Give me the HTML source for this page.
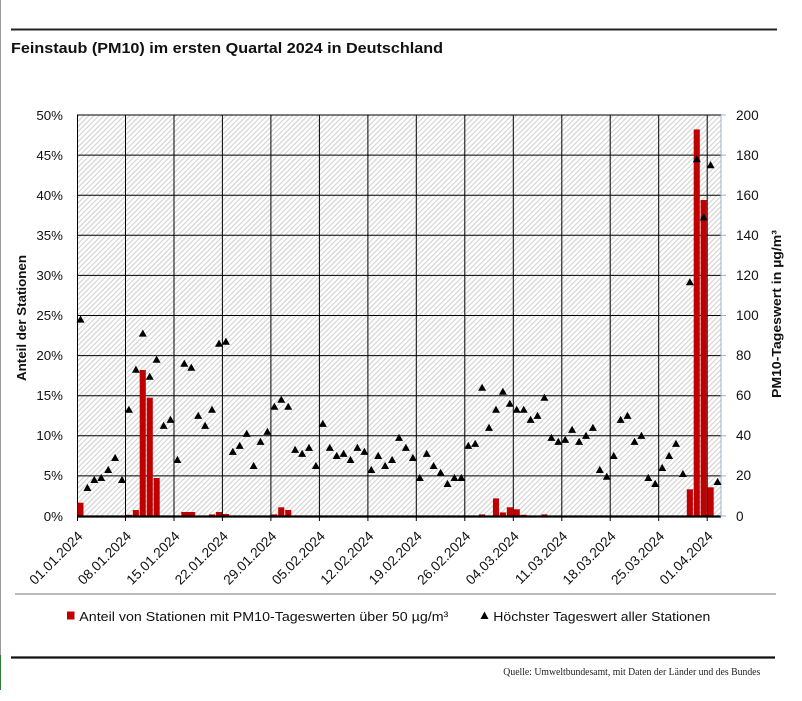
<!DOCTYPE html>
<html><head><meta charset="utf-8"><style>
html,body{margin:0;padding:0;background:#fff;}
svg{display:block;}
text{font-family:"Liberation Sans",sans-serif;}
</style></head><body>
<svg width="802" height="701" viewBox="0 0 802 701" xmlns="http://www.w3.org/2000/svg">
<defs>
<pattern id="h" width="3.6" height="3.6" patternUnits="userSpaceOnUse" patternTransform="rotate(45)">
<rect width="3.6" height="3.6" fill="#ffffff"/>
<line x1="0.6" y1="0" x2="0.6" y2="3.6" stroke="#cdcdcd" stroke-width="1"/>
</pattern>
<path id="m" d="M0,-4 L4,3.1 L-4,3.1 Z" fill="#000"/>
</defs>
<rect width="802" height="701" fill="#fff"/>
<line x1="0.5" y1="0" x2="0.5" y2="655" stroke="#9a9a9a" stroke-width="1"/>
<line x1="0.5" y1="655" x2="0.5" y2="690" stroke="#2e7d32" stroke-width="1"/>

<line x1="11" y1="29.5" x2="777" y2="29.5" stroke="#222" stroke-width="2"/>
<text x="11" y="53" font-size="15" font-weight="bold" fill="#111" textLength="432" lengthAdjust="spacingAndGlyphs">Feinstaub (PM10) im ersten Quartal 2024 in Deutschland</text>

<rect x="77" y="115" width="644" height="401" fill="url(#h)"/>

<g stroke="#000" stroke-width="1">
<line x1="77" y1="115" x2="721" y2="115"/>
<line x1="77" y1="155.1" x2="721" y2="155.1"/>
<line x1="77" y1="195.2" x2="721" y2="195.2"/>
<line x1="77" y1="235.3" x2="721" y2="235.3"/>
<line x1="77" y1="275.4" x2="721" y2="275.4"/>
<line x1="77" y1="315.5" x2="721" y2="315.5"/>
<line x1="77" y1="355.6" x2="721" y2="355.6"/>
<line x1="77" y1="395.7" x2="721" y2="395.7"/>
<line x1="77" y1="435.8" x2="721" y2="435.8"/>
<line x1="77" y1="475.9" x2="721" y2="475.9"/>
</g>
<g stroke="#000" stroke-width="1">
<line x1="77.5" y1="115" x2="77.5" y2="521"/>
<line x1="125.5" y1="115" x2="125.5" y2="521"/>
<line x1="174" y1="115" x2="174" y2="521"/>
<line x1="222.4" y1="115" x2="222.4" y2="521"/>
<line x1="270.9" y1="115" x2="270.9" y2="521"/>
<line x1="319.4" y1="115" x2="319.4" y2="521"/>
<line x1="367.9" y1="115" x2="367.9" y2="521"/>
<line x1="416.3" y1="115" x2="416.3" y2="521"/>
<line x1="464.8" y1="115" x2="464.8" y2="521"/>
<line x1="513.3" y1="115" x2="513.3" y2="521"/>
<line x1="561.8" y1="115" x2="561.8" y2="521"/>
<line x1="610.2" y1="115" x2="610.2" y2="521"/>
<line x1="658.7" y1="115" x2="658.7" y2="521"/>
<line x1="707.2" y1="115" x2="707.2" y2="521"/>
</g>

<g fill="#c00000">
<rect x="77.4" y="502.7" width="6.1" height="13.3"/>
<rect x="125.9" y="514.8" width="6.1" height="1.2"/>
<rect x="132.8" y="510" width="6.1" height="6"/>
<rect x="139.7" y="370" width="6.1" height="146"/>
<rect x="146.7" y="397.7" width="6.1" height="118.3"/>
<rect x="153.6" y="478" width="6.1" height="38"/>
<rect x="181.3" y="512" width="13.8" height="4"/>
<rect x="209" y="514.4" width="6.1" height="1.6"/>
<rect x="215.9" y="512" width="6.1" height="4"/>
<rect x="222.8" y="514" width="6.1" height="2"/>
<rect x="271.3" y="514.4" width="6.1" height="1.6"/>
<rect x="278.2" y="507.3" width="6.1" height="8.7"/>
<rect x="285.2" y="510" width="6.1" height="6"/>
<rect x="479" y="514.4" width="6.1" height="1.6"/>
<rect x="492.9" y="498.4" width="6.1" height="17.6"/>
<rect x="499.8" y="512.4" width="6.1" height="3.6"/>
<rect x="506.8" y="507.3" width="6.1" height="8.7"/>
<rect x="513.7" y="509.3" width="6.1" height="6.7"/>
<rect x="520.6" y="514.8" width="6.1" height="1.2"/>
<rect x="541.4" y="514.4" width="6.1" height="1.6"/>
<rect x="686.8" y="489.3" width="6.1" height="26.7"/>
<rect x="693.7" y="129.4" width="6.1" height="386.6"/>
<rect x="700.6" y="200" width="6.1" height="316"/>
<rect x="707.6" y="487.3" width="6.1" height="28.7"/>
</g>

<line x1="77" y1="516.5" x2="721" y2="516.5" stroke="#000" stroke-width="2.2"/>
<g stroke="#9fb0c8" stroke-width="1">
<line x1="721" y1="115" x2="721" y2="517"/>
<line x1="721" y1="115" x2="726" y2="115"/>
<line x1="721" y1="155.1" x2="726" y2="155.1"/>
<line x1="721" y1="195.2" x2="726" y2="195.2"/>
<line x1="721" y1="235.3" x2="726" y2="235.3"/>
<line x1="721" y1="275.4" x2="726" y2="275.4"/>
<line x1="721" y1="315.5" x2="726" y2="315.5"/>
<line x1="721" y1="355.6" x2="726" y2="355.6"/>
<line x1="721" y1="395.7" x2="726" y2="395.7"/>
<line x1="721" y1="435.8" x2="726" y2="435.8"/>
<line x1="721" y1="475.9" x2="726" y2="475.9"/>
<line x1="721" y1="516" x2="726" y2="516"/>
</g>

<g>
<use href="#m" x="80.5" y="319.5"/><use href="#m" x="87.4" y="487.9"/><use href="#m" x="94.3" y="479.9"/><use href="#m" x="101.2" y="477.9"/>
<use href="#m" x="108.2" y="469.9"/><use href="#m" x="115.1" y="457.9"/><use href="#m" x="122" y="479.9"/><use href="#m" x="128.9" y="409.7"/>
<use href="#m" x="135.9" y="369.6"/><use href="#m" x="142.8" y="333.5"/><use href="#m" x="149.7" y="376.7"/><use href="#m" x="156.6" y="359.6"/>
<use href="#m" x="163.6" y="425.8"/><use href="#m" x="170.5" y="419.8"/><use href="#m" x="177.4" y="459.9"/><use href="#m" x="184.3" y="363.6"/>
<use href="#m" x="191.3" y="367.6"/><use href="#m" x="198.2" y="415.8"/><use href="#m" x="205.1" y="425.8"/><use href="#m" x="212" y="409.7"/>
<use href="#m" x="219" y="343.6"/><use href="#m" x="225.9" y="341.6"/><use href="#m" x="232.8" y="451.8"/><use href="#m" x="239.7" y="445.8"/>
<use href="#m" x="246.7" y="433.8"/><use href="#m" x="253.6" y="465.9"/><use href="#m" x="260.5" y="441.8"/><use href="#m" x="267.4" y="431.8"/>
<use href="#m" x="274.4" y="406.7"/><use href="#m" x="281.3" y="399.7"/><use href="#m" x="288.2" y="406.7"/><use href="#m" x="295.1" y="449.8"/>
<use href="#m" x="302.1" y="453.8"/><use href="#m" x="309" y="447.8"/><use href="#m" x="315.9" y="465.9"/><use href="#m" x="322.8" y="423.8"/>
<use href="#m" x="329.8" y="447.8"/><use href="#m" x="336.7" y="455.9"/><use href="#m" x="343.6" y="453.8"/><use href="#m" x="350.5" y="459.9"/>
<use href="#m" x="357.4" y="447.8"/><use href="#m" x="364.4" y="451.8"/><use href="#m" x="371.3" y="469.9"/><use href="#m" x="378.2" y="455.9"/>
<use href="#m" x="385.1" y="465.9"/><use href="#m" x="392.1" y="459.9"/><use href="#m" x="399" y="437.8"/><use href="#m" x="405.9" y="447.8"/>
<use href="#m" x="412.9" y="457.9"/><use href="#m" x="419.8" y="477.9"/><use href="#m" x="426.7" y="453.8"/><use href="#m" x="433.6" y="465.9"/>
<use href="#m" x="440.6" y="472.7"/><use href="#m" x="447.5" y="483.9"/><use href="#m" x="454.4" y="477.9"/><use href="#m" x="461.3" y="477.9"/>
<use href="#m" x="468.3" y="445.8"/><use href="#m" x="475.2" y="443.8"/><use href="#m" x="482.1" y="387.7"/><use href="#m" x="489" y="427.8"/>
<use href="#m" x="496" y="409.7"/><use href="#m" x="502.9" y="391.7"/><use href="#m" x="509.8" y="403.7"/><use href="#m" x="516.7" y="409.7"/>
<use href="#m" x="523.7" y="409.7"/><use href="#m" x="530.6" y="419.8"/><use href="#m" x="537.5" y="415.8"/><use href="#m" x="544.4" y="397.7"/>
<use href="#m" x="551.4" y="437.8"/><use href="#m" x="558.3" y="441.8"/><use href="#m" x="565.2" y="439.8"/><use href="#m" x="572.1" y="429.8"/>
<use href="#m" x="579.1" y="441.8"/><use href="#m" x="586" y="435.8"/><use href="#m" x="592.9" y="427.8"/><use href="#m" x="599.8" y="469.9"/>
<use href="#m" x="606.8" y="476.7"/><use href="#m" x="613.7" y="455.9"/><use href="#m" x="620.6" y="419.8"/><use href="#m" x="627.5" y="415.8"/>
<use href="#m" x="634.5" y="441.8"/><use href="#m" x="641.4" y="435.8"/><use href="#m" x="648.3" y="477.9"/><use href="#m" x="655.2" y="483.9"/>
<use href="#m" x="662.2" y="467.9"/><use href="#m" x="669.1" y="455.9"/><use href="#m" x="676" y="443.8"/><use href="#m" x="682.9" y="473.9"/>
<use href="#m" x="689.9" y="282.2"/><use href="#m" x="696.8" y="159.1"/><use href="#m" x="703.7" y="217.3"/><use href="#m" x="710.6" y="165.1"/>
<use href="#m" x="717.6" y="481.9"/>
</g>

<g font-size="13.3" fill="#111" text-anchor="end">
<text x="63" y="120">50%</text>
<text x="63" y="160">45%</text>
<text x="63" y="200">40%</text>
<text x="63" y="240">35%</text>
<text x="63" y="280">30%</text>
<text x="63" y="320">25%</text>
<text x="63" y="360">20%</text>
<text x="63" y="400">15%</text>
<text x="63" y="440">10%</text>
<text x="63" y="480">5%</text>
<text x="63" y="521">0%</text>
</g>
<g font-size="13.6" fill="#111">
<text x="736" y="120">200</text>
<text x="736" y="160">180</text>
<text x="736" y="200">160</text>
<text x="736" y="240">140</text>
<text x="736" y="280">120</text>
<text x="736" y="320">100</text>
<text x="736" y="360">80</text>
<text x="736" y="400">60</text>
<text x="736" y="440">40</text>
<text x="736" y="480">20</text>
<text x="736" y="521">0</text>
</g>

<text transform="translate(26,318) rotate(-90)" text-anchor="middle" font-size="13" font-weight="bold" fill="#111" textLength="126" lengthAdjust="spacingAndGlyphs">Anteil der Stationen</text>
<text transform="translate(781,314) rotate(-90)" text-anchor="middle" font-size="13" font-weight="bold" fill="#111" textLength="168" lengthAdjust="spacingAndGlyphs">PM10-Tageswert in µg/m³</text>

<g font-size="13.7" fill="#111" text-anchor="end">
<text transform="translate(83.5,537) rotate(-45)">01.01.2024</text>
<text transform="translate(132,537) rotate(-45)">08.01.2024</text>
<text transform="translate(180.5,537) rotate(-45)">15.01.2024</text>
<text transform="translate(228.9,537) rotate(-45)">22.01.2024</text>
<text transform="translate(277.4,537) rotate(-45)">29.01.2024</text>
<text transform="translate(325.9,537) rotate(-45)">05.02.2024</text>
<text transform="translate(374.4,537) rotate(-45)">12.02.2024</text>
<text transform="translate(422.8,537) rotate(-45)">19.02.2024</text>
<text transform="translate(471.3,537) rotate(-45)">26.02.2024</text>
<text transform="translate(519.8,537) rotate(-45)">04.03.2024</text>
<text transform="translate(568.3,537) rotate(-45)">11.03.2024</text>
<text transform="translate(616.7,537) rotate(-45)">18.03.2024</text>
<text transform="translate(665.2,537) rotate(-45)">25.03.2024</text>
<text transform="translate(713.7,537) rotate(-45)">01.04.2024</text>
</g>

<line x1="15" y1="594" x2="776" y2="594" stroke="#777" stroke-width="1"/>

<rect x="67" y="611.5" width="7.5" height="8" fill="#c00000"/>
<text x="79.3" y="621" font-size="13.3" fill="#111" textLength="369" lengthAdjust="spacingAndGlyphs">Anteil von Stationen mit PM10-Tageswerten über 50 µg/m³</text>
<path d="M484.5,611.5 L488.5,619 L480.5,619 Z" fill="#000"/>
<text x="493.3" y="621" font-size="13.3" fill="#111" textLength="217" lengthAdjust="spacingAndGlyphs">Höchster Tageswert aller Stationen</text>

<line x1="11" y1="657.5" x2="775" y2="657.5" stroke="#111" stroke-width="2.2"/>
<text x="503.3" y="675" font-size="10.5" fill="#222" textLength="257" lengthAdjust="spacingAndGlyphs" style="font-family:'Liberation Serif',serif">Quelle: Umweltbundesamt, mit Daten der Länder und des Bundes</text>
</svg>
</body></html>
